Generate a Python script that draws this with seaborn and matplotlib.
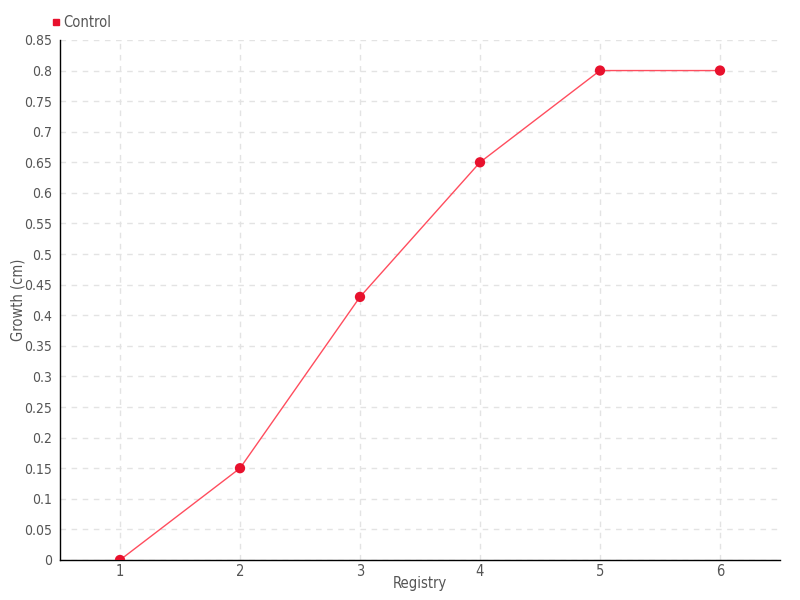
import numpy as np
import pandas as pd
import matplotlib
matplotlib.use("Agg")
import matplotlib.pyplot as plt
import seaborn as sns

# Data
registry = [1, 2, 3, 4, 5, 6]
growth = [0, 0.15, 0.43, 0.65, 0.8, 0.8]
series_name = "Control"

df = pd.DataFrame({"Registry": registry, "Growth": growth, "Group": series_name})

sns.set_style("white")
plt.rcParams["font.family"] = ["DejaVu Sans"]
plt.rcParams["font.stretch"] = "condensed"

text_color = "#555555"
grid_color = "#e3e3e3"
fs = 10.5

fig = plt.figure(figsize=(8, 6), dpi=100)
ax = fig.add_axes([0.075, 0.0667, 0.9, 0.8667])

sns.lineplot(data=df, x="Registry", y="Growth", ax=ax, color="#ff4d5e",
             linewidth=1, legend=False)
sns.scatterplot(data=df, x="Registry", y="Growth", ax=ax, color="#e8112d",
                s=55, edgecolor="none", zorder=5, legend=False)

ax.set_xlim(0.5, 6.5)
ax.set_ylim(0, 0.85)
ax.set_xticks(registry)
ax.set_xticklabels([str(r) for r in registry])
yt = np.round(np.arange(0, 0.851, 0.05), 2)
ax.set_yticks(yt)
ax.set_yticklabels([f"{v:g}" for v in yt])

ax.grid(True, color=grid_color, linestyle=(0, (4, 4)), linewidth=1)
ax.set_axisbelow(True)
for side in ["top", "right"]:
    ax.spines[side].set_visible(False)
for side in ["left", "bottom"]:
    ax.spines[side].set_color("black")
    ax.spines[side].set_linewidth(1)

ax.tick_params(axis="both", direction="out", width=1, color="black",
               labelcolor=text_color, labelsize=fs)
ax.tick_params(axis="x", pad=0, length=3)
ax.tick_params(axis="y", pad=2, length=4, labelsize=10)
ax.set_xlabel("Registry", color=text_color, fontsize=fs, labelpad=-2)
ax.set_ylabel("Growth (cm)", color=text_color, fontsize=fs, labelpad=-1)

# Legend at top left
handle = plt.Line2D([], [], marker="s", linestyle="none", color="#e8112d", markersize=5)
fig.legend([handle], [series_name], loc="upper left", bbox_to_anchor=(0.055, 0.985),
           frameon=False, fontsize=fs, handletextpad=0.1, handlelength=0.8,
           labelcolor=text_color, borderaxespad=0)

fig.savefig("out.png", dpi=100)
